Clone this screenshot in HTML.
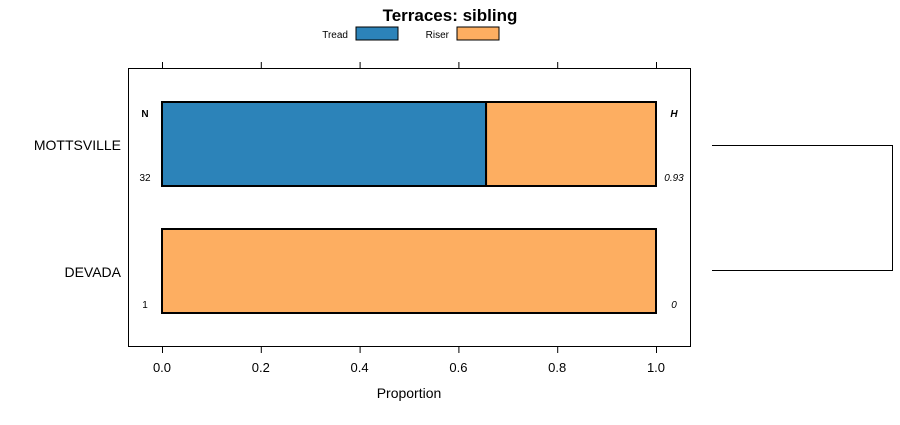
<!DOCTYPE html>
<html><head><meta charset="utf-8"><style>
body{margin:0;background:#fff;}
svg text{font-family:"Liberation Sans",sans-serif;}
</style></head><body>
<svg id="c" width="900" height="420" xmlns="http://www.w3.org/2000/svg"></svg>
<script>
const categories=["MOTTSVILLE","DEVADA"];
const treadValues=[0.656,0];
const riserValues=[0.344,1];
const nValues=["32","1"];
const hValues=["0.93","0"];
const ticks=[0,0.2,0.4,0.6,0.8,1.0];
const tickLabels=["0.0","0.2","0.4","0.6","0.8","1.0"];
const svg=document.getElementById('c');
const NS="http://www.w3.org/2000/svg";
function mk(t,a,p){const e=document.createElementNS(NS,t);for(const k in a)e.setAttribute(k,a[k]);(p||svg).appendChild(e);return e;}
const x=v=>162+v*494;
const bandTop=i=>102+i*127;
const bh=84;
// title
let t=mk('text',{x:450,y:21,'text-anchor':'middle','font-size':17,'font-weight':'bold'});t.textContent="Terraces: sibling";


// legend
let g=mk('g',{});


t=mk('text',{x:348,y:38,'text-anchor':'end','font-size':10},g);t.textContent="Tread";
let r=mk('rect',{x:356,y:27,width:42,height:13,fill:'#2c83b9',stroke:'#000','stroke-width':1},g);


t=mk('text',{x:449,y:38,'text-anchor':'end','font-size':10},g);t.textContent="Riser";
r=mk('rect',{x:457,y:27,width:42,height:13,fill:'#fdae61',stroke:'#000','stroke-width':1},g);


// panel
r=mk('rect',{x:128.5,y:68.5,width:562,height:278,fill:'none',stroke:'#000','stroke-width':1});


ticks.forEach((v,i)=>{
 const xx=x(v)+0.5;
 mk('line',{x1:xx,x2:xx,y1:62,y2:68,stroke:'#000'});
 mk('line',{x1:xx,x2:xx,y1:347,y2:353,stroke:'#000'});
 const l=mk('text',{x:x(v),y:372,'text-anchor':'middle','font-size':13});l.textContent=tickLabels[i];
 
 
});
t=mk('text',{x:409,y:398,'text-anchor':'middle','font-size':14});t.textContent="Proportion";


t=mk('text',{x:145,y:117,'text-anchor':'middle','font-size':10,'font-weight':'bold'});t.textContent="N";
t=mk('text',{x:674,y:117,'text-anchor':'middle','font-size':10,'font-weight':'bold','font-style':'italic'});t.textContent="H";
categories.forEach((c,i)=>{
 const y0=bandTop(i);
 if(treadValues[i]>0){
  const b=mk('rect',{x:x(0),y:y0,width:x(treadValues[i])-x(0),height:bh,fill:'#2c83b9',stroke:'#000','stroke-width':2});
  
  
 }
 const b2=mk('rect',{x:x(treadValues[i]),y:y0,width:x(treadValues[i]+riserValues[i])-x(treadValues[i]),height:bh,fill:'#fdae61',stroke:'#000','stroke-width':2});
 
 
 const l=mk('text',{x:121,y:y0+48,'text-anchor':'end','font-size':14});l.textContent=c;
 
 
 const n=mk('text',{x:145,y:y0+79,'text-anchor':'middle','font-size':10});n.textContent=nValues[i];
 
 
 const h=mk('text',{x:674,y:y0+79,'text-anchor':'middle','font-size':10,'font-style':'italic'});h.textContent=hValues[i];
 
 
});
const d=mk('path',{d:'M712 145.5H892.5V270.5H712',fill:'none',stroke:'#000','stroke-width':1});


</script>
</body></html>
